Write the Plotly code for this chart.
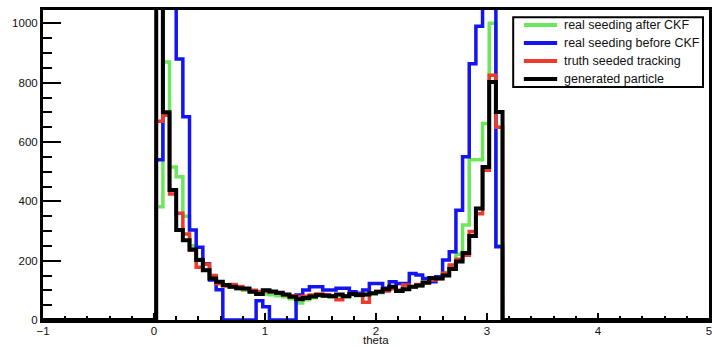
import numpy as np
import plotly.graph_objects as go

# Histogram binning: 100 bins over [-1, 5]; filled bins start at theta = 0.02
bin_lo, bin_hi, n_bins = -1.0, 5.0, 100
first_bin = 17

# Bin contents, one value per bin from theta = 0.02 up to 3.14
generated_particle = [1300, 700, 438, 303, 269, 238, 202, 168, 140, 129,
                      118, 112, 107, 106, 95, 88, 100, 96, 92, 86,
                      78, 70, 74, 79, 84, 82, 80, 86, 80, 88,
                      84, 86, 90, 95, 104, 112, 98, 104, 112, 116,
                      126, 142, 140, 150, 172, 197, 226, 283, 376, 516,
                      802, 701]
truth_seeded = [670, 690, 425, 360, 290, 235, 178, 188, 150, 122,
                115, 120, 113, 105, 100, 96, 98, 95, 90, 85,
                82, 78, 80, 84, 88, 85, 82, 68, 80, 88,
                86, 60, 90, 96, 98, 105, 100, 118, 112, 120,
                125, 135, 140, 158, 185, 205, 218, 298, 358, 505,
                825, 650]
real_before_ckf = [540, 1300, 1200, 880, 685, 303, 245, 190, 135, 102,
                   0, 0, 0, 0, 0, 65, 45, 0, 0, 0,
                   0, 84, 101, 112, 112, 101, 101, 107, 107, 95,
                   90, 101, 123, 123, 107, 129, 123, 123, 157, 152,
                   140, 129, 146, 202, 230, 370, 550, 864, 990, 1300,
                   1300, 247]
real_after_ckf = [382, 870, 516, 483, 350, 250, 205, 170, 140, 125,
                  118, 110, 105, 100, 95, 90, 88, 85, 82, 78,
                  72, 57, 68, 75, 82, 80, 78, 82, 78, 85,
                  82, 84, 88, 92, 100, 108, 100, 108, 112, 115,
                  124, 140, 145, 160, 182, 222, 320, 540, 540, 662,
                  1000, 250]

series = [
    ("real seeding after CKF", real_after_ckf, "#6CE65A"),
    ("real seeding before CKF", real_before_ckf, "#1414F0"),
    ("truth seeded tracking", truth_seeded, "#EC3A2C"),
    ("generated particle", generated_particle, "#000000"),
]

edges = np.linspace(bin_lo, bin_hi, n_bins + 1)


def bin_contents(values):
    counts = np.zeros(n_bins)
    counts[first_bin:first_bin + len(values)] = values
    return counts


fig = go.Figure()
for name, values, color in series:
    counts = bin_contents(values)
    fig.add_trace(go.Scatter(
        x=edges,
        y=np.append(counts, counts[-1]),
        mode="lines",
        line=dict(shape="hv", color=color, width=4 if color == "#000000" else 3.5),
        name=name,
        showlegend=False,
    ))

font_family = "Liberation Sans, Arial, sans-serif"
axis_font = dict(family=font_family, size=11.5, color="#111111")

# Legend box drawn in paper coordinates (top-right corner of the frame)
box_x0, box_x1, box_y0, box_y1 = 0.706, 0.991, 0.752, 0.977
line_x0, line_x1, text_x = 0.722, 0.772, 0.780
row_top, row_step = 0.9516, 0.058

shapes = [dict(type="rect", xref="paper", yref="paper",
               x0=box_x0, x1=box_x1, y0=box_y0, y1=box_y1,
               line=dict(color="black", width=2), fillcolor="white", layer="above")]
annotations = []
for i, (name, _, color) in enumerate(series):
    ry = row_top - i * row_step
    shapes.append(dict(type="line", xref="paper", yref="paper",
                       x0=line_x0, x1=line_x1, y0=ry, y1=ry,
                       line=dict(color=color, width=4), layer="above"))
    annotations.append(dict(xref="paper", yref="paper", x=text_x, y=ry,
                            xanchor="left", yanchor="middle", showarrow=False,
                            text=name,
                            font=dict(family=font_family, size=12.5, color="#111111")))

# x-axis title, centred under the axis at the bottom edge of the figure
annotations.append(dict(xref="paper", yref="paper", x=0.5, y=-0.0855,
                        xanchor="center", yanchor="bottom", showarrow=False,
                        borderpad=0, text="theta", font=axis_font))

fig.update_layout(
    width=712,
    height=347,
    margin=dict(l=43, r=3, t=10, b=27),
    paper_bgcolor="white",
    plot_bgcolor="white",
    font=axis_font,
    showlegend=False,
    shapes=shapes,
    annotations=annotations,
    xaxis=dict(
        range=[bin_lo, bin_hi], dtick=1, tick0=0,
        ticks="inside", ticklen=7, tickwidth=2, tickcolor="black",
        minor=dict(dtick=0.2, ticks="inside", ticklen=4, tickwidth=1.5, tickcolor="black"),
        showline=True, linecolor="black", linewidth=3, mirror=True,
        showgrid=False, zeroline=False, automargin=False,
        ticklabeloverflow="allow", ticklabelstandoff=-2,
        tickfont=axis_font,
    ),
    yaxis=dict(
        range=[0, 1045], dtick=200, tick0=0,
        ticks="inside", ticklen=18, tickwidth=2, tickcolor="black",
        minor=dict(dtick=50, ticks="inside", ticklen=9, tickwidth=1.5, tickcolor="black"),
        showline=True, linecolor="black", linewidth=3, mirror=True,
        showgrid=False, zeroline=False, automargin=False,
        tickfont=axis_font,
    ),
)

fig.write_html("out.html")
